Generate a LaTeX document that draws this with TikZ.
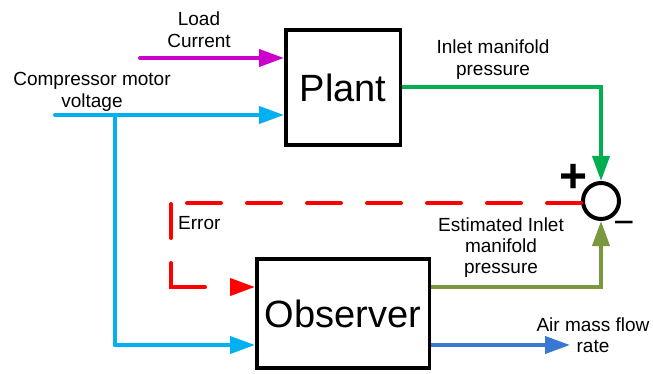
\documentclass[tikz,border=0pt]{standalone}
\usepackage{fontspec}
\setmainfont{Liberation Sans}
\usetikzlibrary{arrows.meta}
\definecolor{cmag}{RGB}{204,0,204}
\definecolor{ccyan}{RGB}{0,176,240}
\definecolor{cgreen}{RGB}{0,176,80}
\definecolor{colive}{RGB}{122,152,62}
\definecolor{cblue}{RGB}{55,120,210}
\definecolor{cred}{RGB}{255,0,0}
\begin{document}
\begin{tikzpicture}[x=1pt,y=-1pt,
  block/.style={draw, line width=3.5pt, inner sep=0pt, font=\fontsize{38}{40}\selectfont},
  conn/.style={line width=4pt, line cap=round, -{Triangle[length=25pt,width=17pt]}},
  plainline/.style={line width=4pt, line cap=round},
  lbl/.style={font=\fontsize{19}{22}\selectfont, align=center, inner sep=0pt},
  lbltight/.style={font=\fontsize{19}{21}\selectfont, align=center, inner sep=0pt}]
\useasboundingbox (0,0) rectangle (653,374);
% blocks
\node[block, minimum width=114.5pt, minimum height=115pt] (plant) at (343,87.5) {Plant};
\node[block, minimum width=172.5pt, minimum height=109pt] (obs) at (343,313.5) {Observer};
\node[draw, circle, line width=4pt, minimum size=36pt, inner sep=0pt] (sum) at (601,201) {};
% coordinates
\coordinate (lcs) at (140,58);
\coordinate (cmv) at (55,115);
\coordinate (br) at (115,115);
\coordinate (bin) at (115,345);
\coordinate (ec1) at (171,203);
\coordinate (ec2) at (171,287);
\coordinate (aout) at (570,345);
% connectors
\draw[conn, cmag] (lcs) -- (lcs -| plant.west);
\draw[conn, ccyan] (cmv) -- (cmv -| plant.west);
\draw[plainline, ccyan] (br) -- (bin);
\draw[conn, ccyan] (bin) -- (bin -| obs.west);
\draw[conn, cgreen, line cap=butt] (plant.east) -| (sum.north);
\draw[conn, colive, line cap=butt] (obs.east |- ec2) -| (sum.south);
\draw[conn, cblue, line cap=butt] (obs.east |- bin) -- (aout);
\draw[conn, cred, dash pattern=on 34pt off 26pt on 34pt off 26pt on 34pt off 26pt on 34pt off 26pt on 34pt off 26pt on 34pt off 26pt on 34pt off 17pt on 34pt off 25pt on 58pt off 60pt]
  (sum.west |- ec1) -- (ec1) -- (ec2) -- (ec2 -| obs.west);
% labels
\node[lbl, anchor=north] (tload) at (199,12) {Load\\Current};
\node[lbl, anchor=north] (tcmv) at (92,72) {Compressor motor\\voltage};
\node[lbl, anchor=north] (timp) at (493,39.5) {Inlet manifold\\pressure};
\node[lbltight, anchor=north] (teimp) at (501,218) {Estimated Inlet\\manifold\\pressure};
\node[lbl, anchor=north west] (terr) at (178,216) {Error};
\node[lbltight, anchor=north] (tair) at (593,318) {Air mass flow\\rate};
\node[font=\fontsize{48}{48}\selectfont\bfseries, inner sep=0pt] (plus) at (573.5,178) {+};
\node[font=\fontsize{36}{36}\selectfont, inner sep=0pt] (minus) at (624,228) {−};
\end{tikzpicture}
\end{document}
